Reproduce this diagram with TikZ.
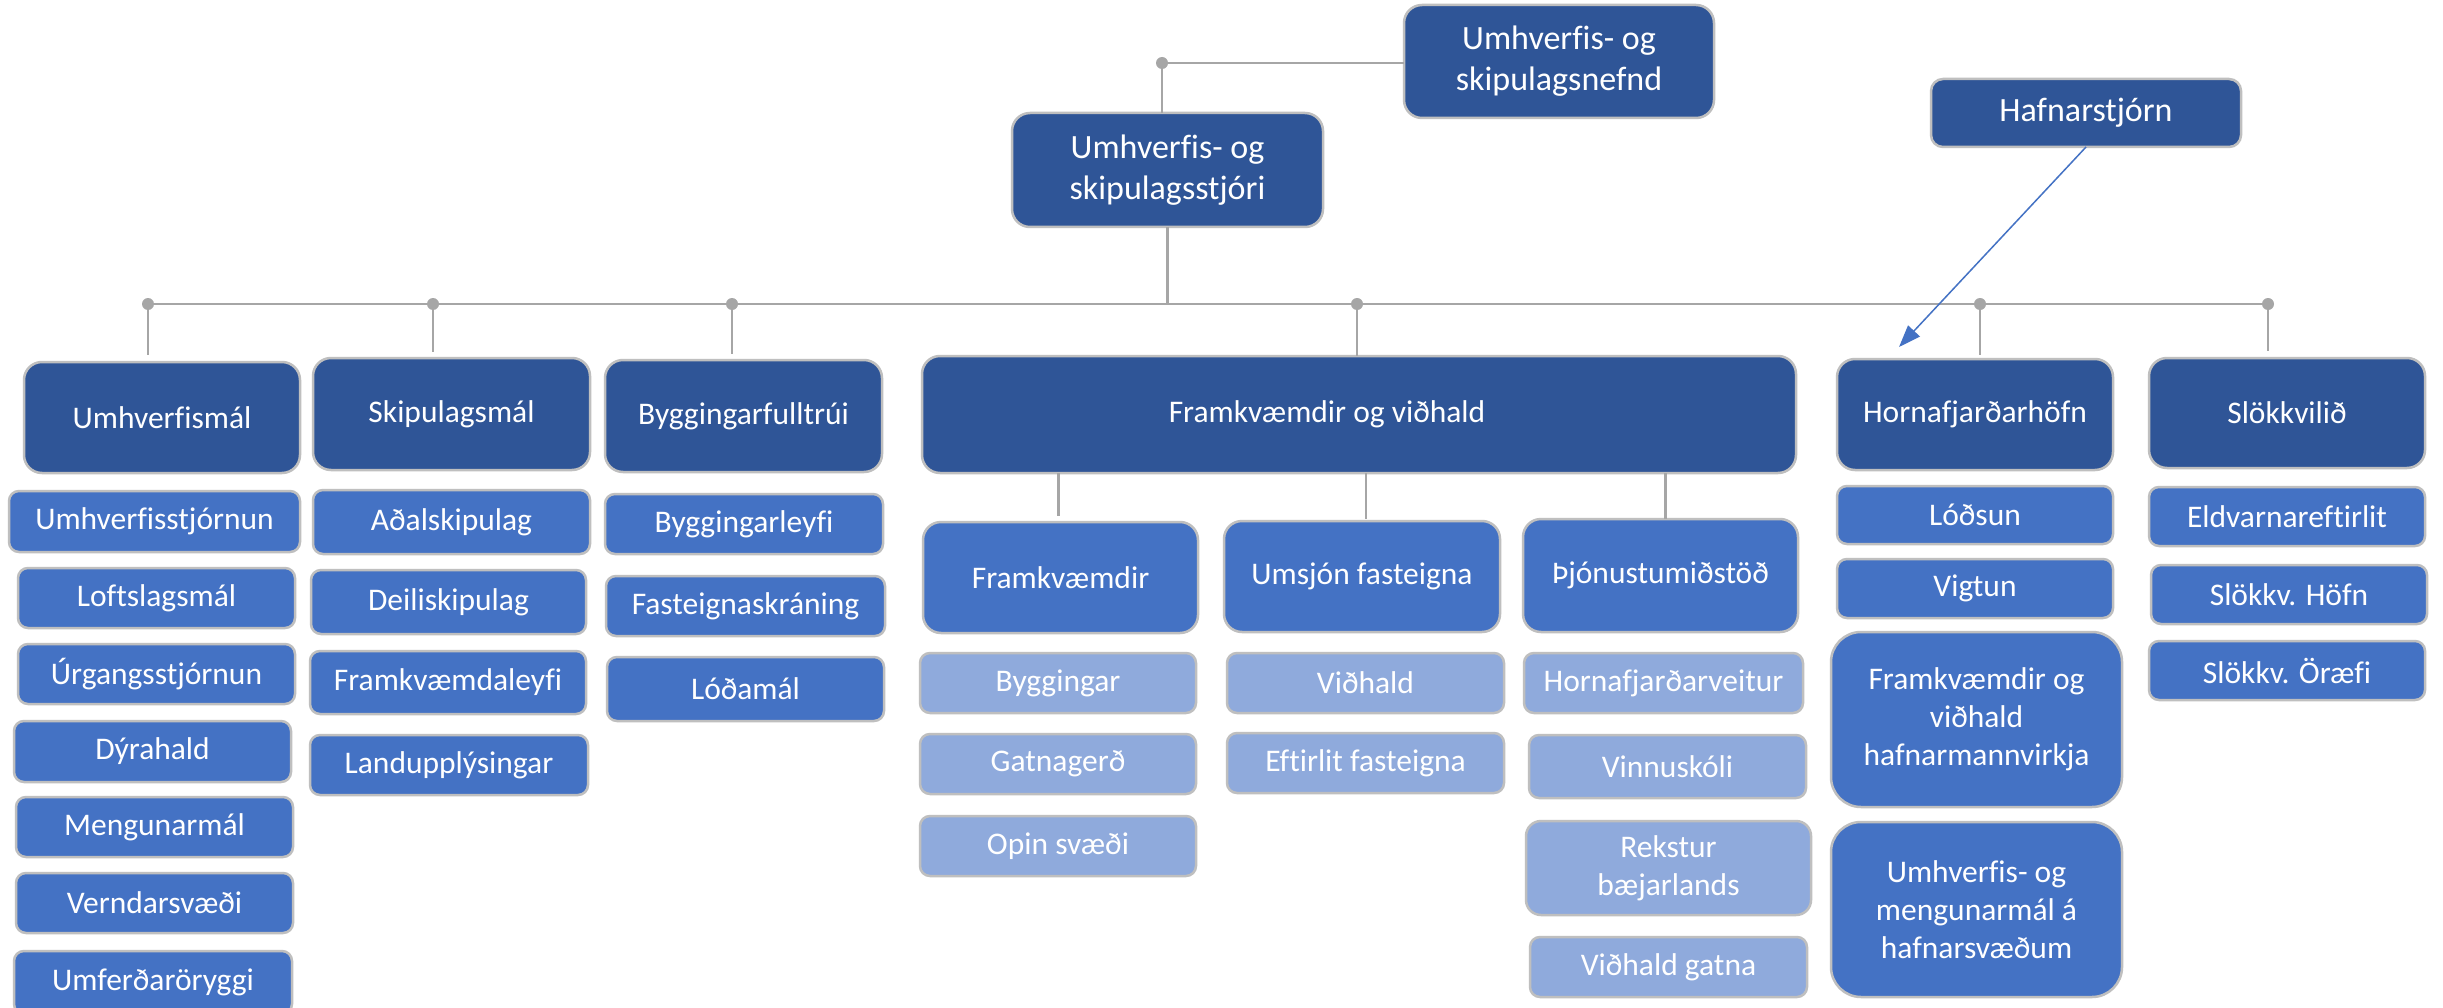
\documentclass[tikz,border=0pt]{standalone}
\usepackage{fontspec}
\setmainfont[Ligatures=NoCommon]{Carlito}
\usetikzlibrary{arrows.meta,calc}
\definecolor{dkblue}{RGB}{47,85,151}
\definecolor{mdblue}{RGB}{68,114,196}
\definecolor{ltblue}{RGB}{143,170,220}
\definecolor{bordergray}{RGB}{191,191,191}
\definecolor{linegray}{RGB}{166,166,166}
\tikzset{
  box/.style={draw=bordergray, line width=2.5pt, text=white, inner sep=0pt, outer sep=0pt,
    align=center, font=\fontsize{31.5}{38}\selectfont},
  dk/.style={box, fill=dkblue, rounded corners=18pt},
  topbox/.style={dk, font=\fontsize{34}{41}\selectfont},
  md/.style={box, fill=mdblue, rounded corners=10pt},
  mdbig/.style={box, fill=mdblue, rounded corners=18pt},
  lt/.style={box, fill=ltblue, rounded corners=10pt},
  conn/.style={draw=linegray, line width=2.5pt},
  dot/.style={fill=linegray},
  arrowc/.style={draw=mdblue, line width=1.5pt, -{Triangle[length=22pt,width=16pt]}}
}
\newcommand{\bx}[7]{\node[#1,minimum width={(#5-#3)*1pt},minimum height={(#6-#4)*1pt}] (#2) at ({(#3+#5)/2},{(#4+#6)/2}) {#7};}
\begin{document}
\begin{tikzpicture}[x=1pt,y=-1pt]
\useasboundingbox[fill=white] (0,0) rectangle (2443,1008);
% top
\bx{topbox}{nefnd}{1404}{5}{1714}{118}{Umhverfis- og\\skipulagsnefnd}
\bx{topbox}{stjori}{1012}{113}{1323}{227}{Umhverfis- og\\skipulagsstjóri}
\bx{topbox,rounded corners=12pt}{hafn}{1931}{79}{2241}{147}{Hafnarstjórn}
% level 1
\bx{dk}{umh}{24}{362}{300}{473}{Umhverfismál}
\bx{dk}{skip}{313}{358}{590}{470}{Skipulagsmál}
\bx{dk}{bygg}{605}{360}{882}{472}{Byggingarfulltrúi}
\bx{dk}{fv}{922}{356}{1796}{473}{Framkvæmdir og viðhald\hspace*{64pt}}
\bx{dk}{horna}{1837}{359}{2113}{470}{Hornafjarðarhöfn}
\bx{dk}{slokk}{2149}{358}{2425}{468}{Slökkvilið}
% Umhverfismál
\bx{md}{c11}{9}{491}{300}{552}{Umhverfisstjórnun}
\bx{md}{c12}{18}{568}{295}{628}{Loftslagsmál}
\bx{md}{c13}{18}{644}{295}{704}{Úrgangsstjórnun}
\bx{md}{c14}{14}{721}{291}{782}{Dýrahald}
\bx{md}{c15}{16}{797}{293}{857}{Mengunarmál}
\bx{md}{c16}{16}{873}{293}{933}{Verndarsvæði}
\bx{md}{c17}{14}{951}{292}{1014}{Umferðaröryggi}
% Skipulagsmál
\bx{md}{c21}{313}{490}{590}{554}{Aðalskipulag}
\bx{md}{c22}{311}{570}{586}{634}{Deiliskipulag}
\bx{md}{c23}{310}{651}{586}{714}{Framkvæmdaleyfi}
\bx{md}{c24}{310}{735}{588}{795}{Landupplýsingar}
% Byggingarfulltrúi
\bx{md}{c31}{605}{494}{883}{554}{Byggingarleyfi}
\bx{md}{c32}{606}{576}{885}{636}{Fasteignaskráning}
\bx{md}{c33}{607}{657}{884}{721}{Lóðamál}
% Framkvæmdir og viðhald
\bx{mdbig}{s1}{923}{522}{1198}{633}{Framkvæmdir}
\bx{mdbig}{s2}{1224}{521}{1500}{632}{Umsjón fasteigna}
\bx{mdbig}{s3}{1523}{519}{1798}{632}{Þjónustumiðstöð}
\bx{lt}{l11}{920}{653}{1196}{713}{Byggingar}
\bx{lt}{l12}{920}{734}{1196}{794}{Gatnagerð}
\bx{lt}{l13}{920}{816}{1196}{876}{Opin svæði}
\bx{lt}{l21}{1227}{653}{1504}{713}{Viðhald}
\bx{lt}{l22}{1227}{733}{1504}{793}{Eftirlit fasteigna}
\bx{lt}{l31}{1524}{653}{1803}{713}{Hornafjarðarveitur}
\bx{lt}{l32}{1529}{735}{1806}{798}{Vinnuskóli}
\bx{lt,rounded corners=15pt}{l33}{1526}{821}{1811}{915}{Rekstur\\bæjarlands}
\bx{lt}{l34}{1530}{937}{1807}{997}{Viðhald gatna}
% Hornafjarðarhöfn
\bx{md}{h1}{1837}{486}{2113}{544}{Lóðsun}
\bx{md}{h2}{1837}{559}{2113}{618}{Vigtun}
\bx{md,rounded corners=30pt}{h3}{1831}{632}{2122}{807}{Framkvæmdir og\\viðhald\\hafnarmannvirkja}
\bx{md,rounded corners=30pt}{h4}{1831}{822}{2122}{997}{Umhverfis- og\\mengunarmál á\\hafnarsvæðum}
% Slökkvilið
\bx{md}{k1}{2149}{487}{2425}{546}{Eldvarnareftirlit}
\bx{md}{k2}{2151}{565}{2427}{624}{Slökkv. Höfn}
\bx{md}{k3}{2149}{641}{2425}{700}{Slökkv. Öræfi}
% connector points
\coordinate (dN) at (1162,63);
\coordinate (dA) at (148,304);
\coordinate (dB) at (433,304);
\coordinate (dC) at (732,304);
\coordinate (dD) at (1357,304);
\coordinate (dE) at (1980,304);
\coordinate (dF) at (2268,304);
\coordinate (htip) at (1899,347);
\coordinate (t1) at ($(s1.north)+(-2,0)$);
\coordinate (t2) at ($(s2.north)+(4,0)$);
\coordinate (t3) at ($(s3.north)+(5,0)$);
% connectors
\draw[conn] (dN) -- (dN -| nefnd.west);
\draw[conn] (dN) -- (dN |- stjori.north);
\draw[conn] (stjori.south) -- (stjori.south |- dA);
\draw[conn] (dA) -- (dF);
\draw[conn, shorten >=7pt] (dA) -- (dA |- umh.north);
\draw[conn, shorten >=6pt] (dB) -- (dB |- skip.north);
\draw[conn, shorten >=6pt] (dC) -- (dC |- bygg.north);
\draw[conn] (dD) -- (dD |- fv.north);
\draw[conn, shorten >=4pt] (dE) -- (dE |- horna.north);
\draw[conn, shorten >=7pt] (dF) -- (dF |- slokk.north);
\draw[conn, shorten >=6pt] (t1 |- fv.south) -- (t1);
\draw[conn, shorten >=2pt] (t2 |- fv.south) -- (t2);
\draw[conn] (t3 |- fv.south) -- (t3);
\foreach \d in {dN,dA,dB,dC,dD,dE,dF} \fill[dot] (\d) circle (6pt);
\draw[arrowc] (hafn.south) -- (htip);
\end{tikzpicture}
\end{document}
